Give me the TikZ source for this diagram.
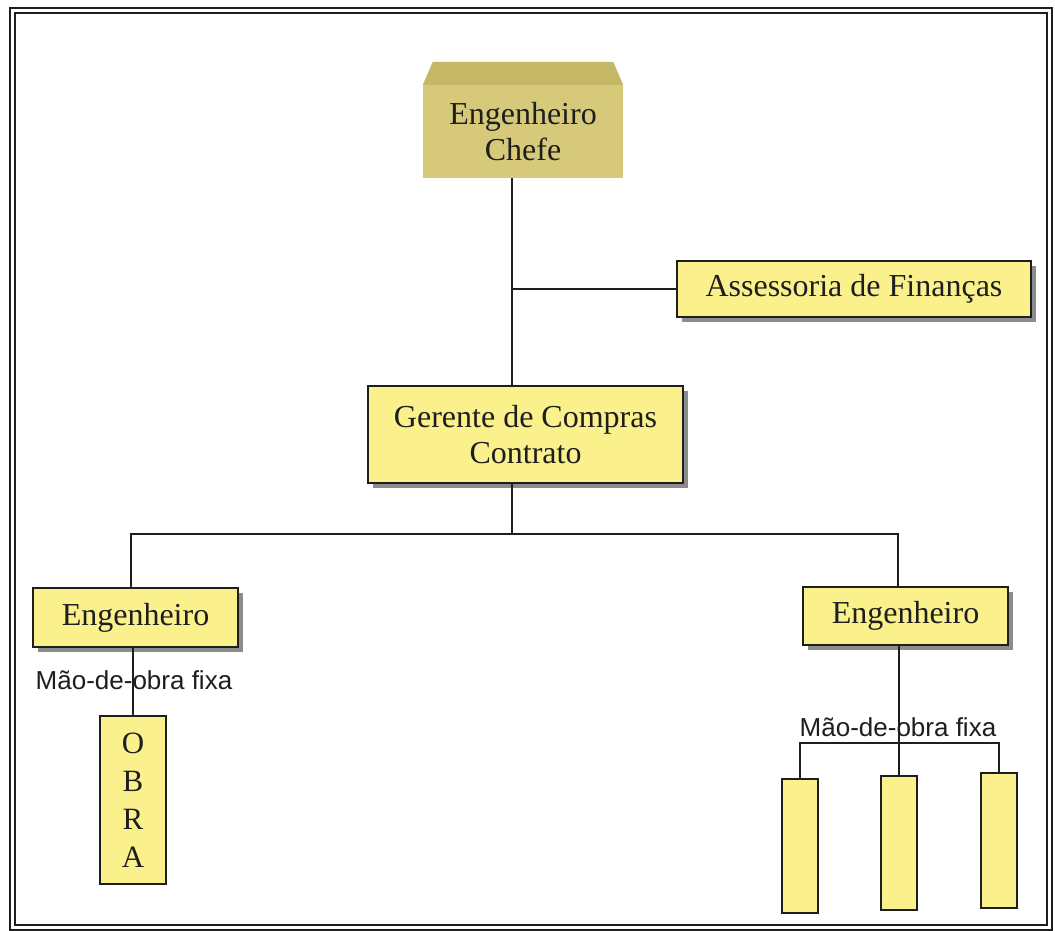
\documentclass[tikz,border=0pt]{standalone}
\usepackage{fontspec}
\setmainfont{Liberation Serif}
\newfontfamily\labelfont{Liberation Sans}
\usetikzlibrary{shadows,calc}
\definecolor{boxyellow}{RGB}{250,240,140}
\definecolor{khakiface}{RGB}{214,202,122}
\definecolor{khakitop}{RGB}{196,183,102}
\definecolor{shadowgray}{RGB}{140,140,140}
\definecolor{inkdark}{RGB}{30,30,30}

\begin{document}
\begin{tikzpicture}[x=1pt,y=-1pt,
  orgbox/.style={draw=inkdark, line width=1.5pt, fill=boxyellow, align=center,
    inner sep=0pt, text=inkdark, font=\fontsize{32}{36}\selectfont},
  shadowed/.style={drop shadow={shadow xshift=5pt, shadow yshift=-5pt,
    fill=shadowgray, opacity=1}},
  link/.style={line width=2pt, draw=inkdark},
  crewlabel/.style={font=\labelfont\fontsize{26}{28}\selectfont, inner sep=0pt, text=inkdark}]

\useasboundingbox (0,0) rectangle (1055,931);
\fill[white] (0,0) rectangle (1055,931);

% double frame
\draw[line width=2pt, inkdark] (10,8) rectangle (1052,930);
\draw[line width=1.5pt, inkdark] (15,13) rectangle (1047,925);

% chief engineer: raised block
\node[fill=khakiface, minimum width=200pt, minimum height=93pt, inner sep=0pt,
  align=center, text=inkdark, font=\fontsize{32}{36}\selectfont]
  (chefe) at (523,131.5) {Engenheiro\\Chefe};
\fill[khakitop] (chefe.north west) -- ++(10,-23)
  -- ($(chefe.north east)+(-10,-23)$) -- (chefe.north east) -- cycle;

% staff and management boxes
\node[orgbox, shadowed, minimum width=354pt, minimum height=56pt]
  (assess) at (854,289) {Assessoria de Finanças};
\node[orgbox, shadowed, minimum width=315pt, minimum height=97pt]
  (ger) at (525.5,434.5) {Gerente de Compras\\Contrato};
\node[orgbox, shadowed, minimum width=205pt, minimum height=59pt]
  (engL) at (135.5,617.5) {Engenheiro};
\node[orgbox, shadowed, minimum width=205pt, minimum height=58pt]
  (engR) at (905.5,616) {Engenheiro};

% work sites
\node[orgbox, minimum width=66pt, minimum height=168pt, font=\fontsize{31}{38}\selectfont]
  (obra) at (133,800) {O\\B\\R\\A};
\node[orgbox, minimum width=36pt, minimum height=134pt] (w1) at (800,846) {};
\node[orgbox, minimum width=36pt, minimum height=134pt] (w2) at (899,843) {};
\node[orgbox, minimum width=36pt, minimum height=135pt] (w3) at (999,840.5) {};

% labels
\node[crewlabel] (lblL) at (134,680) {Mão-de-obra fixa};
\node[crewlabel] (lblR) at (898,727) {Mão-de-obra fixa};

% routing coordinates
\coordinate (spine) at (512,0);
\coordinate (bus) at (0,534);
\coordinate (legL) at (131,0);
\coordinate (legR) at (898,0);
\coordinate (crew) at (0,743);

% connectors
\draw[link] (chefe.south -| spine) -- (ger.north -| spine);
\draw[link] (spine |- assess.west) -- (assess.west);
\draw[link] (ger.south -| spine) -- (spine |- bus);
\draw[link] (engL.north -| legL) -- (legL |- bus) -- (legR |- bus) -- (engR.north -| legR);
\draw[link] (engL.south -| obra.north) -- (obra.north);
\draw[link] (engR.south -| w2.north) -- (w2.north);
\draw[link] (w1.north) -- (w1.north |- crew) -- (w3.north |- crew) -- (w3.north);

\end{tikzpicture}
\end{document}
